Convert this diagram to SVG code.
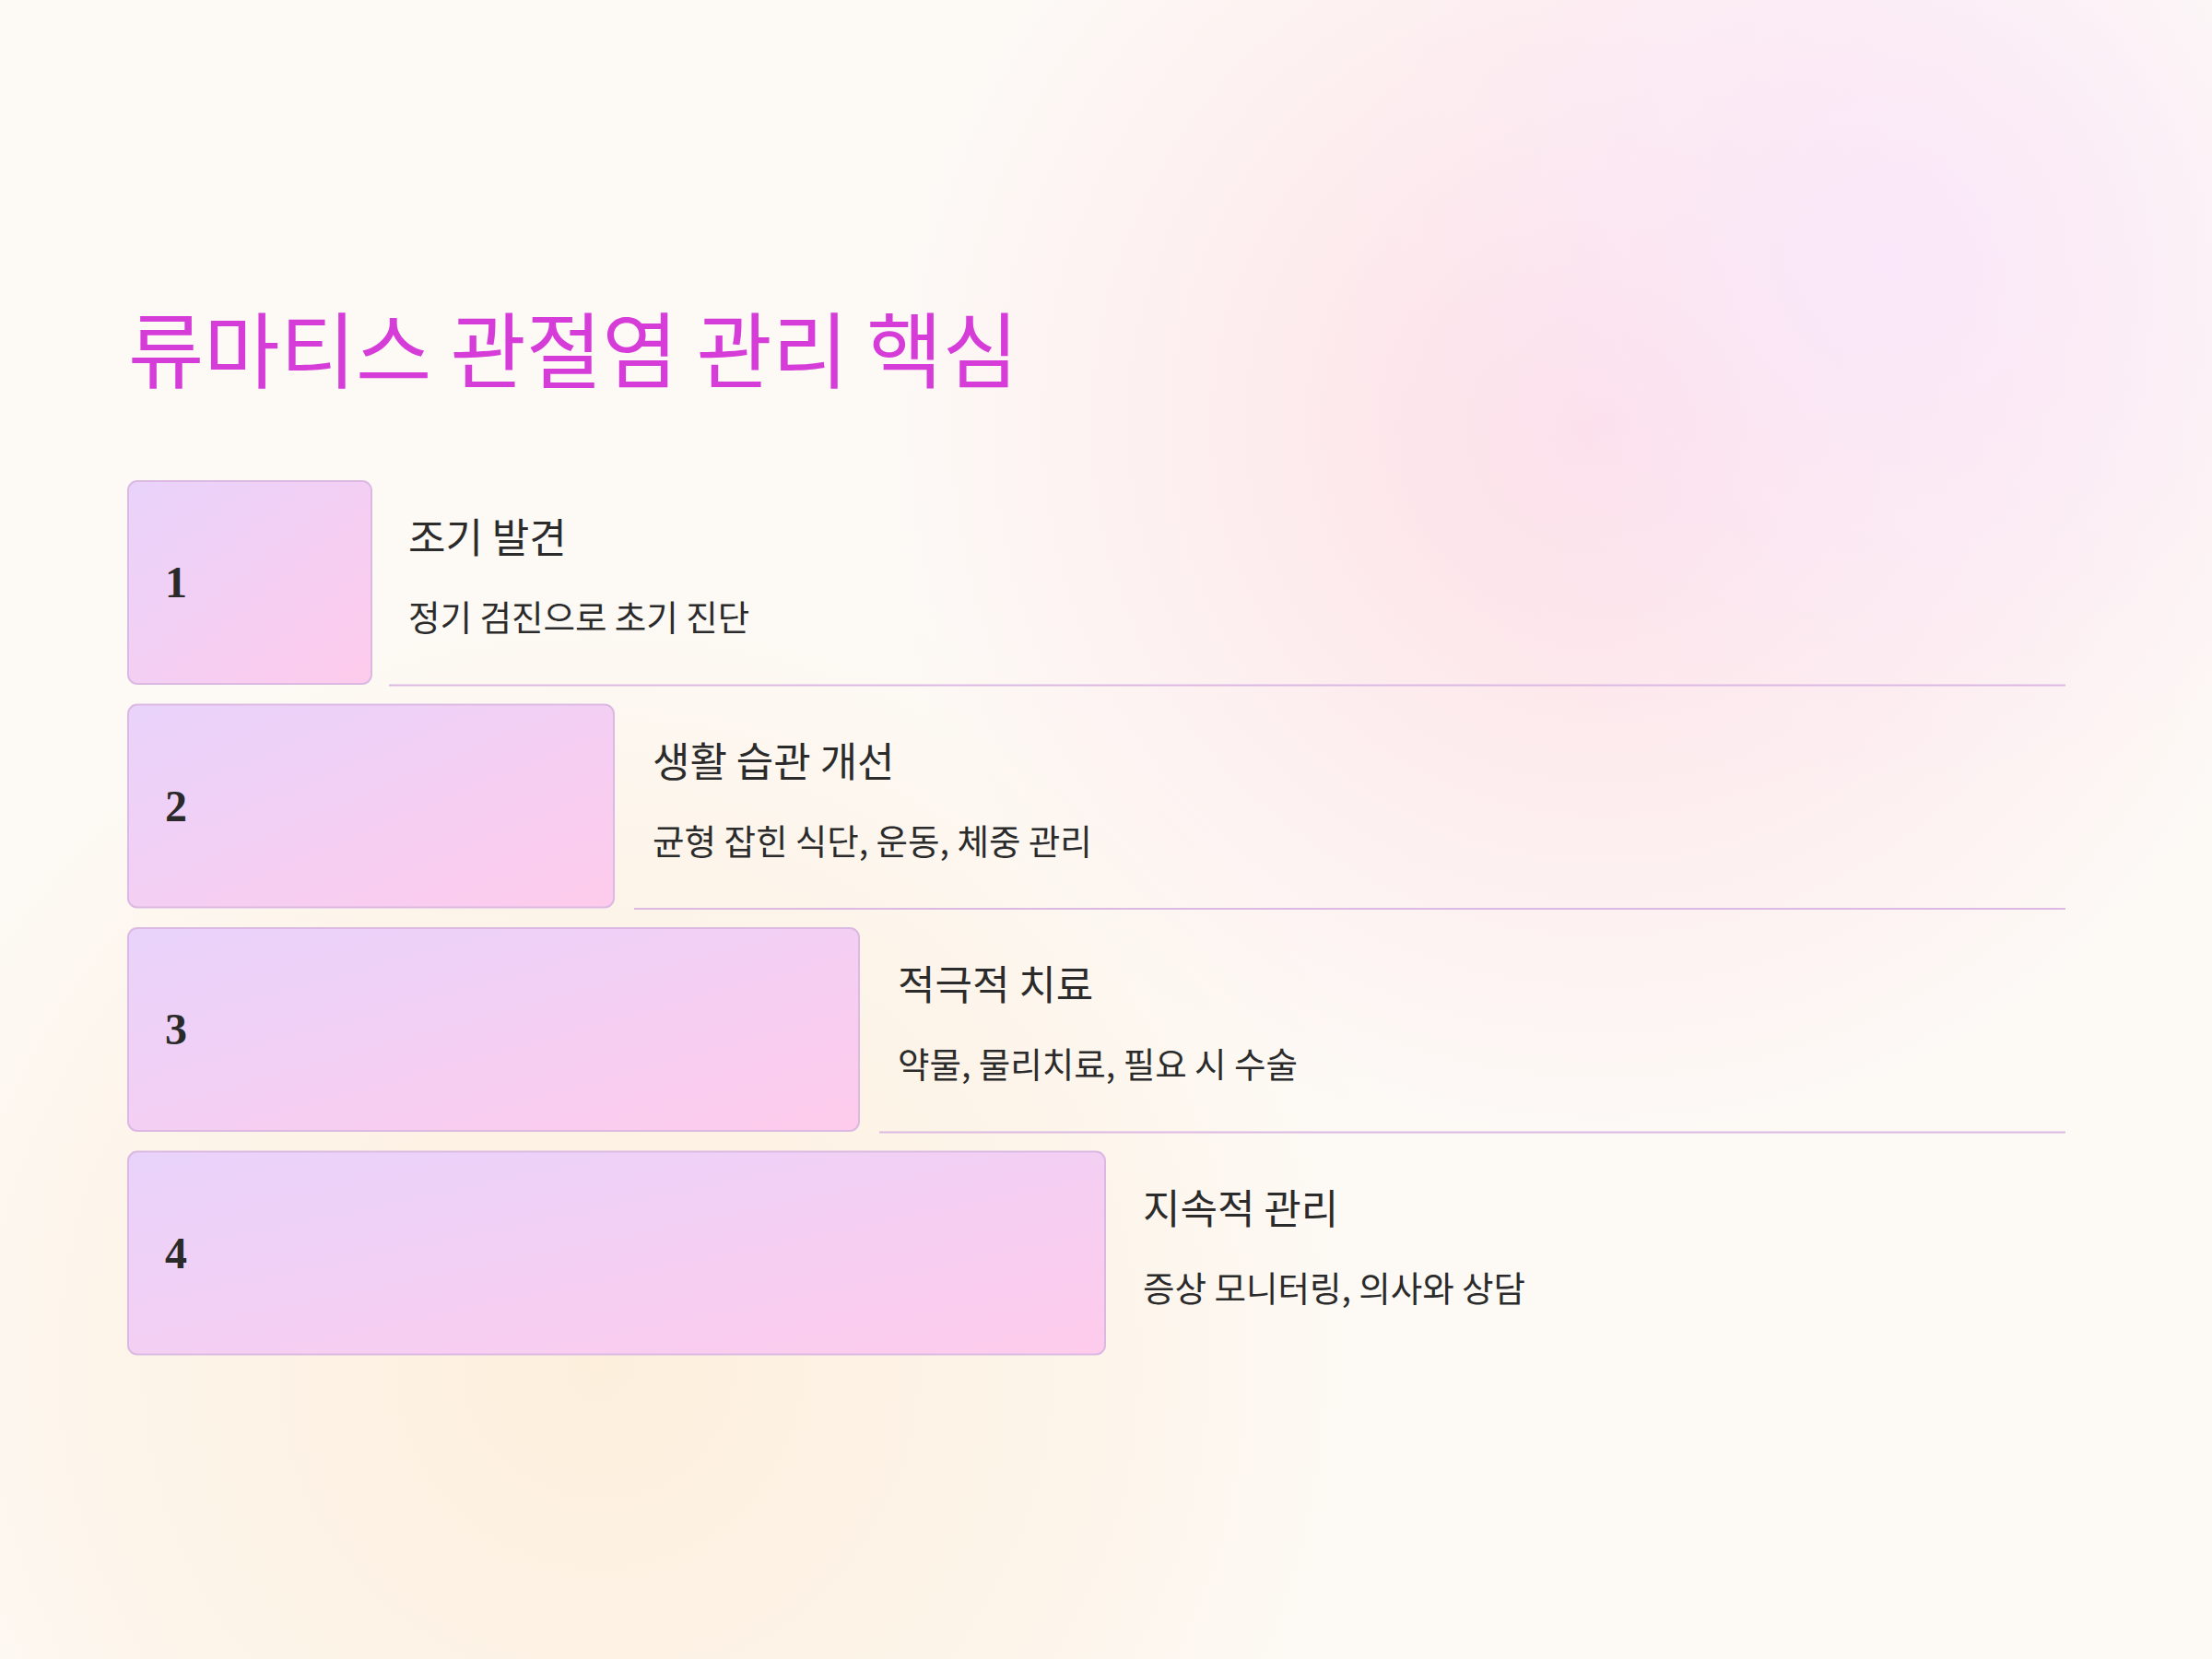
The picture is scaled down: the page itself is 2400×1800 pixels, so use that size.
<svg xmlns="http://www.w3.org/2000/svg" width="2400" height="1800" viewBox="0 0 2400 1800">
<defs>
<radialGradient id="gPink" cx="1740" cy="460" r="800" gradientUnits="userSpaceOnUse">
<stop offset="0" stop-color="#fddde5" stop-opacity="1"/>
<stop offset="0.5" stop-color="#fde4e9" stop-opacity="0.6"/>
<stop offset="1" stop-color="#fde6ea" stop-opacity="0"/>
</radialGradient>
<radialGradient id="gLav" cx="2050" cy="280" r="600" gradientUnits="userSpaceOnUse">
<stop offset="0" stop-color="#f9e6fa" stop-opacity="0.9"/>
<stop offset="1" stop-color="#faeafb" stop-opacity="0"/>
</radialGradient>
<radialGradient id="gPeach" cx="650" cy="1480" r="900" gradientUnits="userSpaceOnUse">
<stop offset="0" stop-color="#fdefdc" stop-opacity="1"/>
<stop offset="0.6" stop-color="#fdf1e2" stop-opacity="0.6"/>
<stop offset="1" stop-color="#fdf3e8" stop-opacity="0"/>
</radialGradient>
<linearGradient id="gBox" x1="0" y1="0" x2="1" y2="1">
<stop offset="0" stop-color="#e9d3fb"/>
<stop offset="1" stop-color="#fecbec"/>
</linearGradient>
<style>
.box{fill:url(#gBox);stroke:#dbb9e3;stroke-width:2}
.num{font-family:"Liberation Serif","DejaVu Serif",serif;font-weight:bold;font-size:48px;fill:#2a2a2a}
.hd{font-family:"Noto Sans CJK KR","Noto Sans",sans-serif;font-size:44px;fill:#2b2b2b}
.ds{font-family:"Noto Sans CJK KR","Noto Sans",sans-serif;font-size:37.5px;fill:#2b2b2b}
.sep{stroke:#dcb9e2;stroke-width:2;fill:none}
.title{font-family:"Noto Sans CJK KR","Noto Sans",sans-serif;font-size:90px;fill:#d63dd8}
</style>
</defs>
<rect width="2400" height="1800" fill="#fdfaf6"/>
<rect width="2400" height="1800" fill="url(#gPeach)"/>
<rect width="2400" height="1800" fill="url(#gPink)"/>
<rect width="2400" height="1800" fill="url(#gLav)"/>
<text class="title" x="139" y="414" textLength="966" lengthAdjust="spacingAndGlyphs">류마티스 관절염 관리 핵심</text>
<g id="connectors">
<line class="sep" x1="422" y1="743.5" x2="2241" y2="743.5"/>
<line class="sep" x1="688" y1="986" x2="2241" y2="986"/>
<line class="sep" x1="954" y1="1228.5" x2="2241" y2="1228.5"/>
</g>
<g id="step1">
<rect class="box" x="139" y="522" width="264" height="220" rx="10"/>
<text class="num" x="179" y="648">1</text>
<text class="hd" x="443" y="600">조기 발견</text>
<text class="ds" x="443" y="684">정기 검진으로 초기 진단</text>
</g>
<g id="step2">
<rect class="box" x="139" y="764.5" width="527" height="220" rx="10"/>
<text class="num" x="179" y="891">2</text>
<text class="hd" x="708" y="842.5">생활 습관 개선</text>
<text class="ds" x="708" y="926.5">균형 잡힌 식단, 운동, 체중 관리</text>
</g>
<g id="step3">
<rect class="box" x="139" y="1007" width="793" height="220" rx="10"/>
<text class="num" x="179" y="1133">3</text>
<text class="hd" x="974" y="1085">적극적 치료</text>
<text class="ds" x="974" y="1169">약물, 물리치료, 필요 시 수술</text>
</g>
<g id="step4">
<rect class="box" x="139" y="1249.5" width="1060" height="220" rx="10"/>
<text class="num" x="179" y="1375.5">4</text>
<text class="hd" x="1240" y="1327.5">지속적 관리</text>
<text class="ds" x="1240" y="1411.5">증상 모니터링, 의사와 상담</text>
</g>
</svg>
